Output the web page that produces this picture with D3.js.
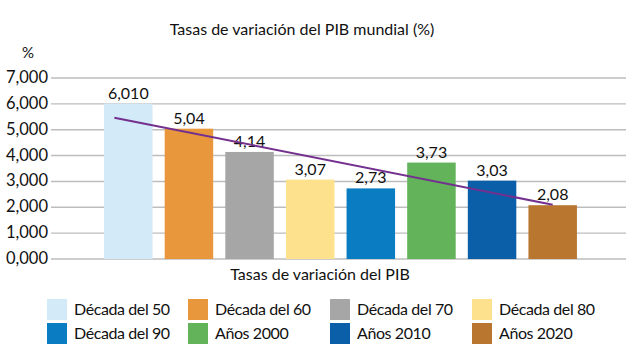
<!DOCTYPE html>
<html><head><meta charset="utf-8">
<script src="https://cdn.jsdelivr.net/npm/d3@7"></script>
<style>
body{margin:0;background:#fff;}
svg{display:block;font-family:Lato,"Open Sans",sans-serif;}
</style></head>
<body><svg id="c" width="642" height="360"></svg>
<script>
const categories = ["Década del 50","Década del 60","Década del 70","Década del 80","Década del 90","Años 2000","Años 2010","Años 2020"];
const values = [6.010, 5.04, 4.14, 3.07, 2.73, 3.73, 3.03, 2.08];
const valueLabels = ["6,010","5,04","4,14","3,07","2,73","3,73","3,03","2,08"];
const colors = ["#D3EAF9","#E8973C","#A6A6A6","#FDE18D","#0A7CC2","#62B35A","#0A5FA8","#B8762F"];
const yTicks = [0,1,2,3,4,5,6,7];
const yTickLabels = ["0,000","1,000","2,000","3,000","4,000","5,000","6,000","7,000"];
const title = "Tasas de variación del PIB mundial (%)";
const xTitle = "Tasas de variación del PIB";
const yUnit = "%";
const trendStartIndex = -0.23;

const svg = d3.select("#c");
const y = d3.scaleLinear().domain([0,7]).range([259,78]);
const x = d3.scaleBand().domain(categories).range([98,583]).paddingInner(0.2).paddingOuter(0.1);

// gridlines
svg.append("g").selectAll("line").data(yTicks).join("line")
  .attr("x1",51).attr("x2",626)
  .attr("y1",d=>y(d)).attr("y2",d=>y(d))
  .attr("stroke","#BDBDBD").attr("stroke-width",1.4);

// y tick labels
svg.append("g").selectAll("text").data(yTicks).join("text")
  .attr("x",48).attr("y",d=>y(d)+5)
  .attr("text-anchor","end").attr("font-size",16.5).attr("fill","#111")
  .text((d,i)=>yTickLabels[i]);

svg.append("text").attr("x",28).attr("y",58).attr("text-anchor","middle")
  .attr("font-size",15).attr("fill","#111").text(yUnit);

// bars
svg.append("g").selectAll("rect").data(values).join("rect")
  .attr("x",(d,i)=>x(categories[i])).attr("width",x.bandwidth())
  .attr("y",d=>y(d)).attr("height",d=>y(0)-y(d))
  .attr("fill",(d,i)=>colors[i]);

// value labels
svg.append("g").selectAll("text").data(values).join("text")
  .attr("x",(d,i)=>x(categories[i])+x.bandwidth()/2)
  .attr("y",d=>y(d)-5)
  .attr("text-anchor","middle").attr("font-size",16).attr("fill","#111")
  .text((d,i)=>valueLabels[i]);

// linear trend (least squares over category index)
const n = values.length;
const idx = d3.range(n);
const mx = d3.mean(idx), my = d3.mean(values);
const slope = d3.sum(idx,i=>(i-mx)*(values[i]-my))/d3.sum(idx,i=>(i-mx)*(i-mx));
const icpt = my - slope*mx;
const xi = d3.scaleLinear().domain([0,n-1])
  .range([x(categories[0])+x.bandwidth()/2, x(categories[n-1])+x.bandwidth()/2]);
const trend = [trendStartIndex, n-1];
svg.append("path")
  .attr("d", d3.line().x(t=>xi(t)).y(t=>y(icpt+slope*t))(trend))
  .attr("stroke","#74308F").attr("stroke-width",2).attr("fill","none");

// titles
svg.append("text").attr("x",302).attr("y",35).attr("text-anchor","middle")
  .attr("font-size",16).attr("fill","#111").text(title);
svg.append("text").attr("x",320).attr("y",280).attr("text-anchor","middle")
  .attr("font-size",16).attr("fill","#111").text(xTitle);

// legend
const colX = [47,188,330,472];
const rowY = [299,323];
const lg = svg.append("g").selectAll("g").data(categories).join("g")
  .attr("transform",(d,i)=>`translate(${colX[i%4]},${rowY[Math.floor(i/4)]})`);
lg.append("rect").attr("width",20).attr("height",21).attr("fill",(d,i)=>colors[i]);
lg.append("text").attr("x",27).attr("y",16).attr("font-size",16)
  .attr("letter-spacing",-0.4).attr("fill","#111").text(d=>d);
</script></body></html>
